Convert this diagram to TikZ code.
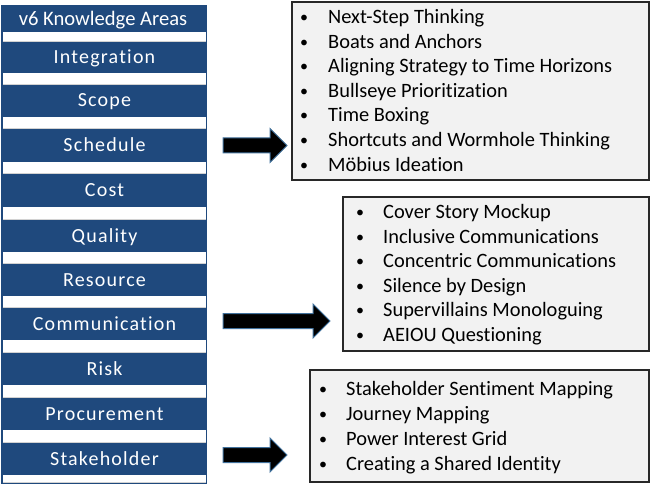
\documentclass[tikz,border=0pt]{standalone}
\usepackage{fontspec}
\setmainfont{Carlito}[Ligatures={NoCommon}]
\newfontfamily\rowfont[LetterSpace=6,Ligatures={NoCommon}]{Carlito}
\definecolor{kablue}{RGB}{31,73,125}
\definecolor{arrowedge}{RGB}{65,113,156}
\definecolor{boxfill}{RGB}{242,242,242}
\definecolor{boxedge}{RGB}{40,40,40}
\tikzset{
  rowlabel/.style={anchor=base, inner sep=0pt, text=white, font=\fontsize{20}{24}\rowfont},
  headlabel/.style={anchor=base, inner sep=0pt, text=white, font=\fontsize{20.6}{24}\selectfont},
  listbox/.style={draw=boxedge, line width=1.3pt, fill=boxfill, inner sep=0pt},
  item/.style={anchor=base west, inner sep=0pt, font=\fontsize{20.4}{24}\selectfont},
  bul/.style={anchor=base west, inner sep=0pt, font=\fontsize{16}{20}\selectfont},
  blockarrow/.style={fill=black, draw=arrowedge, line width=1pt, line join=miter}
}
\begin{document}
\begin{tikzpicture}[x=1pt,y=-1pt]
\useasboundingbox (0,0) rectangle (651,484);
% left column
\fill[kablue] (1,5) rectangle (207,484);
\foreach \a/\b in {32/41, 73/84, 117/128, 162/173, 207/219, 252/263, 296/307, 340/352, 385/397, 430/442, 475/482}{
  \fill[white] (2.5,\a) rectangle (205.5,\b);
  \draw[gray!35, line width=0.8pt] (2.5,\b) -- (205.5,\b);
}
\node[headlabel] (head) at (103,25.5) {v6 Knowledge Areas};
\foreach \nm/\lab/\y in {integ/Integration/57, scope/Scope/100.5, sched/Schedule/145, cost/Cost/190, qual/Quality/235.5, res/Resource/279.5, comm/Communication/323.5, risk/Risk/368.5, proc/Procurement/413.5, stake/Stakeholder/458.5}{
  \node[rowlabel] (\nm) at (104.5,\y+6.5) {\lab};
}
% boxes
\node[listbox, minimum width=357pt, minimum height=178pt] (box1) at (470.5,91) {};
\node[listbox, minimum width=306pt, minimum height=154pt] (box2) at (496,274) {};
\node[listbox, minimum width=339pt, minimum height=112pt] (box3) at (479.5,426) {};
% box items
\foreach \t [count=\i from 0] in {Next-Step Thinking, Boats and Anchors, Aligning Strategy to Time Horizons, Bullseye Prioritization, Time Boxing, Shortcuts and Wormhole Thinking, M\"obius Ideation}{
  \node[bul] (ba\i) at (300,22.5+\i*24.6) {•};
  \node[item] (ta\i) at (328,23.5+\i*24.6) {\t};
}
\foreach \t [count=\i from 0] in {Cover Story Mockup, Inclusive Communications, Concentric Communications, Silence by Design, Supervillains Monologuing, AEIOU Questioning}{
  \node[bul] (bb\i) at (356,217.5+\i*24.6) {•};
  \node[item] (tb\i) at (383,218.5+\i*24.6) {\t};
}
\foreach \t [count=\i from 0] in {Stakeholder Sentiment Mapping, Journey Mapping, Power Interest Grid, Creating a Shared Identity}{
  \node[bul] (bc\i) at (319,394.5+\i*25) {•};
  \node[item] (tc\i) at (346,395.5+\i*25) {\t};
}
% block arrows
\path[blockarrow] (223,138) -- (270,138) -- (270,128.5) -- (287,145.5) -- (270,162.5) -- (270,153) -- (223,153) -- cycle;
\path[blockarrow] (223,313.5) -- (313,313.5) -- (313,304) -- (330,321) -- (313,338) -- (313,328.5) -- (223,328.5) -- cycle;
\path[blockarrow] (223,447.5) -- (270,447.5) -- (270,438) -- (287,455) -- (270,472) -- (270,462.5) -- (223,462.5) -- cycle;
\end{tikzpicture}
\end{document}
